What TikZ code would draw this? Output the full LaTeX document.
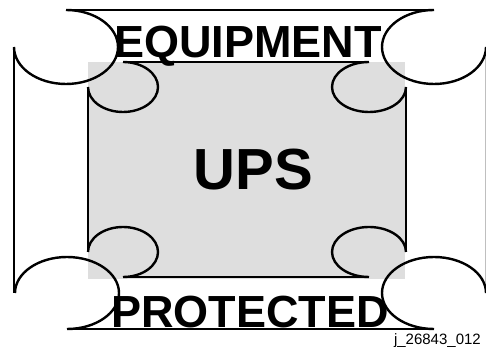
\documentclass[tikz,border=0pt]{standalone}
\usepackage{fontspec}
\setsansfont{Liberation Sans}
\usetikzlibrary{positioning}

\begin{document}
\begin{tikzpicture}[
  x=1pt, y=1pt,
  edge/.style={line width=2.8pt, line cap=butt},
  curl/.style={line width=2.4pt},
  panel/.style={fill=black!13, draw=none},
  title/.style={font=\sffamily\bfseries\fontsize{45}{45}\selectfont,
                inner sep=0pt, anchor=base},
  big/.style={font=\sffamily\bfseries\fontsize{58}{58}\selectfont,
              inner sep=0pt, anchor=base},
  tag/.style={font=\sffamily\fontsize{15}{15}\selectfont,
              inner sep=0pt, anchor=base east}
]
  \useasboundingbox (0,0) rectangle (486,347);
  \fill[panel] (88,68) rectangle (405,285);

  % outer scroll
  \draw[edge] (66,337) -- (434,337);
  \draw[edge] (67,18) -- (434,18);
  \draw[edge] (14,300) -- (14,54);
  \draw[edge, black!25, line width=1.2pt] (485.6,300) -- (485.6,54);
  \draw[curl] (66,337) arc[start angle=90, end angle=-180, x radius=52, y radius=37];
  \draw[curl] (15,54) arc[start angle=180, end angle=-90, x radius=52, y radius=36];
  \draw[curl] (486,54) arc[start angle=0, end angle=270, x radius=52, y radius=36];
  \draw[curl] (434,337) arc[start angle=90, end angle=360, x radius=52, y radius=37];

  % inner scroll
  \draw[edge] (123,285) -- (369,285);
  \draw[edge] (123,70) -- (369,70);
  \draw[edge] (88,260) -- (88,95);
  \draw[edge] (406,260) -- (406,95);
  \draw[curl] (123,285) arc[start angle=90, end angle=-180, x radius=35, y radius=25];
  \draw[curl] (88,95) arc[start angle=180, end angle=-90, x radius=35, y radius=25];
  \draw[curl] (406,95) arc[start angle=0, end angle=270, x radius=37, y radius=25];
  \draw[curl] (369,285) arc[start angle=90, end angle=360, x radius=37, y radius=25];

  \node[title] (equip) at (248,289) {EQUIPMENT};
  \node[big]   (ups)   at (253.5,157) {UPS};
  \node[title] (prot)  at (250,19) {PROTECTED};
  \node[tag]   (ref)   at (481,2) {j\_26843\_012};
\end{tikzpicture}
\end{document}
